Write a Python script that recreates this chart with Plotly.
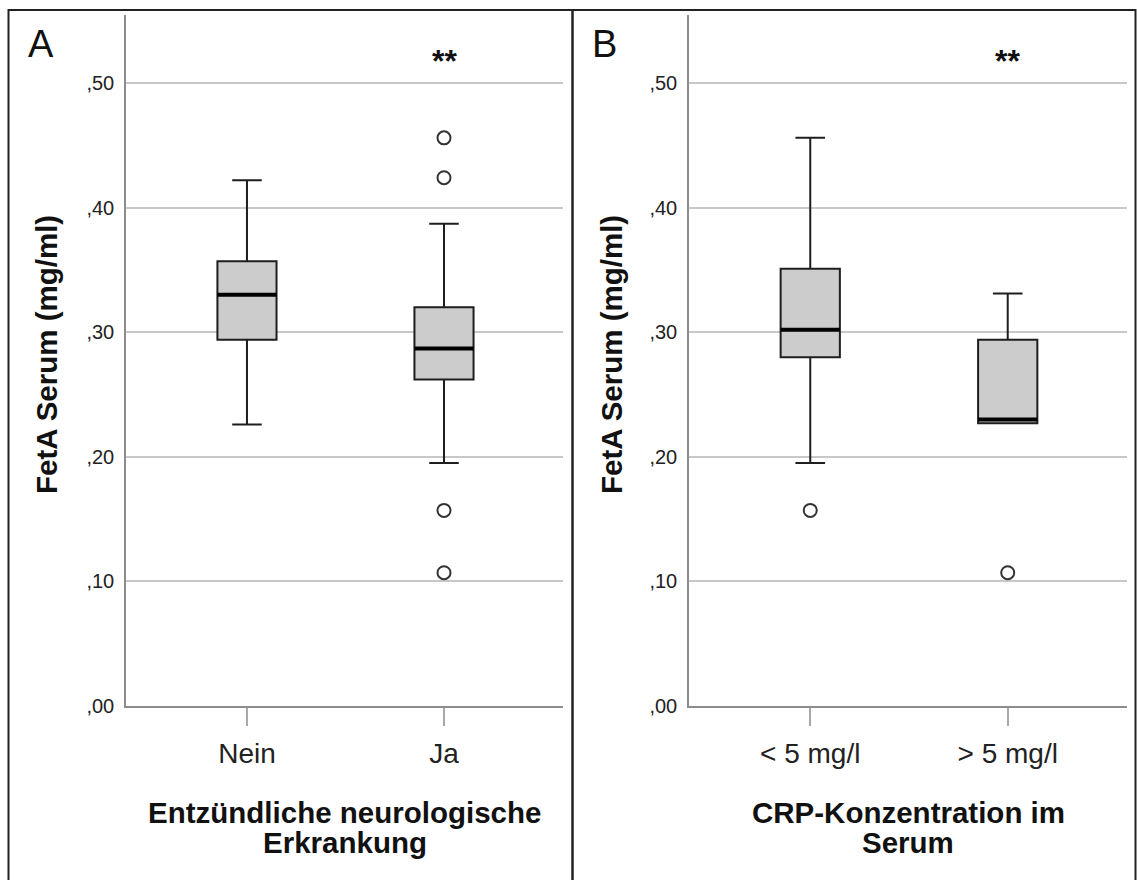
import plotly.graph_objects as go

W, H = 1137, 880

# ---------------- data ----------------
cats_a = ["Nein", "Ja"]
q1_a = [0.294, 0.262]
med_a = [0.330, 0.287]
q3_a = [0.357, 0.320]
low_a = [0.226, 0.195]
up_a = [0.422, 0.387]
out_a_cat = [1, 1, 1, 1]
out_a_val = [0.456, 0.424, 0.157, 0.107]

cats_b = ["< 5 mg/l", "> 5 mg/l"]
q1_b = [0.280, 0.227]
med_b = [0.302, 0.230]
q3_b = [0.351, 0.294]
low_b = [0.195, 0.227]
up_b = [0.456, 0.331]
out_b_cat = [0, 1]
out_b_val = [0.157, 0.107]

ytick_vals = [0.0, 0.1, 0.2, 0.3, 0.4, 0.5]
ytick_text = [",00", ",10", ",20", ",30", ",40", ",50"]

ytitle = "FetA Serum (mg/ml)"
xtitle_a = ["Entzündliche neurologische", "Erkrankung"]
xtitle_b = ["CRP-Konzentration im", "Serum"]
sig_label = "**"

# ---------------- style ----------------
FONT = "Liberation Sans, Arial, sans-serif"
BOX_W = 0.30
FILL = "#cccccc"
LINE = "#1e1e1e"
GRID = "#c8c8c8"
AXIS = "#8c8c8c"


def px(x):
    return x / W


def py(y):
    return 1 - y / H


fig = go.Figure()


def add_panel(xa, ya, cats, q1, med, q3, low, up, ocat, oval):
    pos = list(range(len(cats)))
    for i in pos:
        fig.add_trace(go.Box(
            x=[pos[i]], q1=[q1[i]], median=[med[i]], q3=[q3[i]],
            lowerfence=[low[i]], upperfence=[up[i]],
            width=BOX_W, whiskerwidth=0.5, boxpoints=False,
            fillcolor=FILL, line=dict(color=LINE, width=2),
            xaxis=xa, yaxis=ya, showlegend=False, hoverinfo="skip"))
        fig.add_trace(go.Scatter(
            x=[pos[i] - BOX_W / 2, pos[i] + BOX_W / 2], y=[med[i], med[i]],
            mode="lines", line=dict(color="#000000", width=4),
            xaxis=xa, yaxis=ya, showlegend=False, hoverinfo="skip"))
    fig.add_trace(go.Scatter(
        x=ocat, y=oval, mode="markers",
        marker=dict(symbol="circle-open", size=13, color="#333333",
                    line=dict(width=2, color="#333333")),
        xaxis=xa, yaxis=ya, showlegend=False, hoverinfo="skip"))


add_panel("x", "y", cats_a, q1_a, med_a, q3_a, low_a, up_a, out_a_cat, out_a_val)
add_panel("x2", "y2", cats_b, q1_b, med_b, q3_b, low_b, up_b, out_b_cat, out_b_val)

xcommon = dict(range=[-0.614, 1.604], showgrid=False, zeroline=False,
               showline=True, linecolor=AXIS, linewidth=1.5,
               ticks="outside", ticklen=18, tickwidth=1.5, tickcolor="#a8a8a8",
               tickfont=dict(family=FONT, size=28, color="#222222"),
               ticklabelstandoff=4,
               tickvals=[0, 1], fixedrange=True)
ycommon = dict(range=[0, 0.5546], showgrid=True, gridcolor=GRID, gridwidth=1.5,
               zeroline=False, showline=True, linecolor=AXIS, linewidth=1.5,
               ticks="outside", ticklen=6, tickcolor="rgba(0,0,0,0)",
               tickvals=ytick_vals, ticktext=ytick_text,
               tickfont=dict(family=FONT, size=20, color="#222222"),
               domain=[py(706), py(15)], fixedrange=True)

fig.update_layout(
    width=W, height=H, margin=dict(l=0, r=0, t=0, b=0, autoexpand=False),
    paper_bgcolor="white", plot_bgcolor="white",
    xaxis=dict(xcommon, domain=[px(126), px(563)], ticktext=cats_a, anchor="y"),
    yaxis=dict(ycommon, anchor="x"),
    xaxis2=dict(xcommon, domain=[px(689), px(1127)], ticktext=cats_b, anchor="y2"),
    yaxis2=dict(ycommon, anchor="x2"),
    showlegend=False,
)

C = dict(xanchor="center", yanchor="middle", showarrow=False)
ann = []
# panel letters
ann.append(dict(C, text="A", x=px(41), y=py(44), xref="paper", yref="paper",
                font=dict(family=FONT, size=38, color="#111")))
ann.append(dict(C, text="B", x=px(604), y=py(44), xref="paper", yref="paper",
                font=dict(family=FONT, size=38, color="#111")))
# significance
for xr, yr in (("x", "y"), ("x2", "y2")):
    ann.append(dict(C, text="<b>%s</b>" % sig_label, x=1, y=0.518, xref=xr, yref=yr,
                    font=dict(family=FONT, size=32, color="#111")))
# y titles
for cx in (47, 612):
    ann.append(dict(C, text="<b>%s</b>" % ytitle, x=px(cx), y=py(355), xref="paper",
                    yref="paper", textangle=-90,
                    font=dict(family=FONT, size=29.5, color="#111")))
# x titles
for cx, lines in ((344.5, xtitle_a), (908, xtitle_b)):
    for k, line in enumerate(lines):
        ann.append(dict(C, text="<b>%s</b>" % line, x=px(cx), y=py(812 + 30 * k),
                        xref="paper", yref="paper",
                        font=dict(family=FONT, size=29.5, color="#111")))
fig.update_layout(annotations=ann)

# panel borders
shapes = []
for x0, x1 in ((8.5, 572.5), (572.5, 1135.5)):
    shapes.append(dict(type="rect", xref="paper", yref="paper",
                       x0=px(x0), x1=px(x1), y0=-0.05, y1=py(10),
                       line=dict(color="#222222", width=2), fillcolor="rgba(0,0,0,0)",
                       layer="above"))
fig.update_layout(shapes=shapes)

fig.write_html("out.html")
